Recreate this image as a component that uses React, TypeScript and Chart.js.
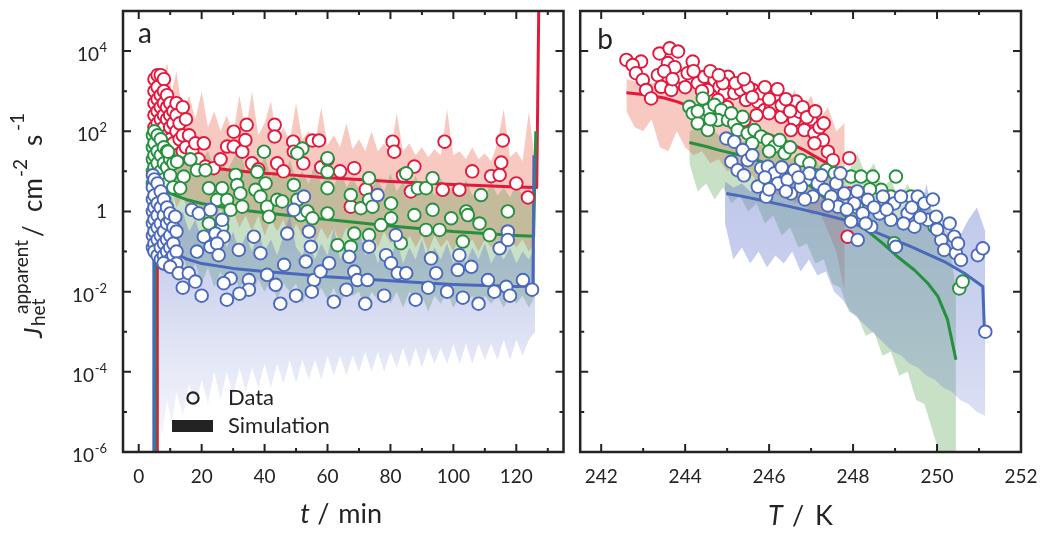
import React, { useEffect, useRef } from "react";
import { Chart, registerables } from "chart.js";

Chart.register(...registerables);

const FONT = "Lato, 'Open Sans', 'DejaVu Sans', sans-serif";
const INK = "#232323";
const RED = "#E2183C";
const GREEN = "#25913E";
const BLUE = "#4A69BD";
const RED_BAND = "rgba(236,112,92,0.38)";
const GREEN_BAND = "rgba(88,160,78,0.33)";
const BLUE_BAND = "rgba(98,118,205,0.34)";

// axis ticks
const Y_EXPONENTS = [-6, -5, -4, -3, -2, -1, 0, 1, 2, 3, 4, 5];
const Y_LABEL_EXPONENTS = [-6, -4, -2, 0, 2, 4];
const T_TICKS = [0, 10, 20, 30, 40, 50, 60, 70, 80, 90, 100, 110, 120, 130];
const T_TICK_LABELS = [0, 20, 40, 60, 80, 100, 120];
const K_TICKS = [242, 243, 244, 245, 246, 247, 248, 249, 250, 251, 252];
const K_TICK_LABELS = [242, 244, 246, 248, 250, 252];

// ---------- panel a : time (min), values are log10(J) ----------
const redDataA = [
  [5, 3.3], [5, 3.0], [5, 2.7], [5, 2.4], [5, 2.1], [6, 3.4], [6, 3.1], [6, 2.8], [6, 2.5], [6, 2.2], [6, 1.9],
  [7, 3.4], [7, 2.9], [7, 2.6], [7, 2.3], [7, 2.0], [8, 3.3], [8, 3.0], [8, 2.7], [8, 2.4], [8, 2.1],
  [9, 2.9], [9, 2.6], [9, 2.3], [9, 1.9], [10, 2.7], [10, 2.4], [10, 2.1], [10, 1.8], [11, 2.5], [11, 2.2], [11, 1.7],
  [12, 2.7], [12, 2.4], [12, 2.0], [13, 2.2], [13, 1.8], [14, 2.6], [14, 1.9], [14, 1.5], [15, 2.3], [15, 1.6],
  [16, 1.9], [17, 1.5], [18, 1.7], [19, 1.3], [20.7, 1.7], [21.2, 1.12], [23.8, 1.08], [26, 1.3], [28.1, 1.62],
  [30.2, 1.99], [30.2, 1.62], [32.9, 1.49], [33.9, 1.78], [34.3, 2.16], [36, 1.2], [38, 1.05], [43.2, 2.16],
  [43.2, 1.87], [44, 1.2], [46, 1.0], [49.1, 1.74], [49.3, 1.49], [52.3, 1.2], [55.2, 1.77], [57.3, 1.77],
  [58, 1.1], [60, 1.3], [64, 1.0], [68.5, 1.08], [67.4, 0.12], [72.2, 0.55], [80.7, 1.74], [81.2, 1.49],
  [84, 0.9], [87.6, 1.12], [86.5, 0.5], [97.2, 1.74], [96.6, 0.54], [101.9, 0.54], [106, 1.0], [112, 0.88],
  [114.7, 0.91], [115.2, 1.22], [115.7, 1.77], [120, 0.7], [123.7, 0.35],
];
const greenDataA = [
  [4.5, 1.9], [4.5, 1.6], [4.5, 1.3], [4.5, 1.0], [4.5, 0.7], [5, 2.0], [5, 1.7], [5, 1.4], [5, 1.1],
  [6, 1.9], [6, 1.5], [6, 1.2], [6, 0.9], [7, 1.8], [7, 1.4], [7, 1.0], [7, 0.7], [8, 1.6], [8, 1.2], [8, 0.8],
  [9, 1.5], [9, 1.1], [9, 0.7], [10, 1.3], [10, 0.9], [11, 1.2], [11, 0.6], [9.3, 1.49], [12.2, 1.24],
  [16.4, 1.3], [18.5, 1.03], [21.2, 1.03], [14.3, 0.87], [13.2, 0.58], [22.3, 0.58], [26.5, 0.58], [24.9, 0.29],
  [28.1, 0.29], [30.8, 0.91], [31.3, 0.66], [32.3, 0.45], [29.2, 0.04], [22.3, -0.3], [26.5, -0.38], [32.9, 0.12],
  [37.7, 0.99], [40.3, 0.7], [39.8, 1.49], [37.1, 0.54], [38.7, 0.37], [40.8, 0.12], [41.4, -0.13], [44, 0.29],
  [45.6, 0.25], [49.3, 0.66], [50.4, 0.29], [52, 1.57], [50.4, 1.45], [51.5, -0.09], [53.6, 0.0], [55.2, -0.17],
  [60, 1.33], [60, 0.99], [60, 0.58], [60, -0.05], [63.2, -0.84], [67.4, 0.41], [67.4, -0.88], [68.5, -0.55],
  [70.6, 0.08], [73.2, 0.83], [73.2, 0.29], [74.3, 0.12], [77, -0.34], [73.2, -0.59], [80.2, 0.2], [80.2, -0.17],
  [83.3, -0.79], [85, 0.95], [87.6, -0.09], [88.7, 0.58], [91.3, 0.58], [93.4, 0.83], [93.4, 0.04], [91.3, -0.46],
  [95.6, -0.46], [99.3, -0.17], [103, -0.75], [104.1, 0], [104.6, -0.09], [108.3, -0.3], [108.8, 0.41],
  [111.5, -0.59], [117.3, 0],
];
const blueDataA = [
  [4.5, 0.9], [4.5, 0.6], [4.5, 0.3], [4.5, 0.0], [4.5, -0.3], [4.5, -0.6], [4.5, -0.9], [5, 0.8], [5, 0.4],
  [5, 0.1], [5, -0.2], [5, -0.5], [5, -0.8], [5, -1.0], [6, 0.7], [6, 0.2], [6, -0.1], [6, -0.4], [6, -0.7],
  [6, -1.1], [7, 0.5], [7, 0.1], [7, -0.3], [7, -0.6], [7, -0.9], [7, -1.2], [8, 0.3], [8, -0.1], [8, -0.5],
  [8, -0.8], [8, -1.1], [8, -1.3], [9, 0.1], [9, -0.3], [9, -0.7], [9, -1.0], [9, -1.3], [10, -0.2], [10, -0.6],
  [10, -0.9], [10, -1.2], [11, -0.4], [11, -0.8], [11, -1.1], [12, -0.5], [12, -1.0], [12, -1.3],
  [10, -0.05], [11.6, -0.13], [7.9, -1.29], [10, -1.38], [12.7, -1.54], [15.9, -1.54], [18, -1.75], [18.5, -1.0],
  [16.9, 0.04], [19.1, -0.05], [22.8, 0.04], [20.7, -0.63], [22.8, -0.88], [24.4, -0.55], [26.5, -0.21],
  [27, -0.63], [24.9, -0.8], [25.4, -1.09], [29.2, -1.67], [27, -1.79], [31.8, -0.96], [35, -1.71], [36.6, -0.63],
  [38.7, -1.04], [40.8, -1.58], [43.5, -1.83], [46.2, -1.33], [47.2, -0.55], [49.3, 0.04], [52.5, 0.37],
  [53.1, -1.25], [54.1, -0.5], [54.7, -0.88], [55.7, -1.71], [57.8, -1.5], [60.5, -1.29], [66.9, -1.13],
  [68.5, -1.5], [69.5, -1.71], [72.7, -1.71], [73.2, -0.88], [75.9, 0.41], [78.6, -1.09], [80.2, -1.29],
  [81.7, -0.59], [82.3, -1.54], [85, -1.54], [92.9, -1.17], [94.5, -1.54], [101.4, -1.46], [101.9, -1.09],
  [105.7, -1.38], [111, -1.71], [114.7, -0.92], [117.3, -0.5], [117.3, -0.71], [122.1, -1.71], [116.8, -1.88],
  [20, -2.1], [28, -2.2], [35, -1.95], [45, -2.3], [55, -2.0], [62, -2.25], [78, -2.1], [88, -2.2], [98, -2.0],
  [108, -2.3], [118, -2.1], [125, -1.95], [14, -1.9], [32, -2.05], [50, -2.1], [66, -1.95], [72, -2.3],
  [92, -1.9], [103, -2.15], [113, -2.0],
];
const redLineA = [
  [5.9, -7], [5.9, 2.9], [6.5, 2.2], [7.5, 1.75], [9, 1.5], [11, 1.35], [15, 1.22], [20, 1.12], [30, 1.02],
  [40, 0.95], [50, 0.9], [60, 0.84], [70, 0.8], [80, 0.75], [90, 0.71], [100, 0.67], [110, 0.64], [120, 0.61],
  [126.5, 0.6], [127.2, 5.5],
];
const greenLineA = [
  [5.2, -7], [5.2, 1.1], [5.6, 0.85], [7, 0.65], [10, 0.45], [15, 0.3], [20, 0.2], [30, 0.06], [40, -0.03],
  [50, -0.12], [60, -0.2], [70, -0.28], [80, -0.36], [90, -0.43], [100, -0.5], [110, -0.55], [120, -0.6],
  [125.5, -0.62], [126.2, 2.0],
];
const blueLineA = [
  [4.8, -7], [4.8, 0.1], [5.3, -0.4], [6, -0.6], [7, -0.72], [8, -0.8], [10, -0.92], [12, -1.05], [15, -1.18],
  [20, -1.3], [30, -1.42], [40, -1.5], [50, -1.56], [60, -1.63], [70, -1.68], [80, -1.73], [90, -1.78],
  [100, -1.82], [110, -1.85], [120, -1.87], [125.3, -1.86], [125.6, 1.4],
];
const bandTA = [5, 6, 7.5, 9, 10.5, 12, 14, 16, 18, 20, 22, 24, 26, 28, 30, 32, 34, 36, 38, 40, 42, 44, 46, 48, 50,
  52, 54, 56, 58, 60, 62, 64, 66, 68, 70, 72, 74, 76, 78, 80, 82, 84, 86, 88, 90, 92, 94, 96, 98, 100, 102, 104,
  106, 108, 110, 112, 114, 116, 118, 120, 122, 124, 126];
const redBandHiA = [2.2, 3.6, 3.2, 3.7, 3.0, 3.5, 2.4, 2.9, 2.3, 3.0, 2.1, 2.5, 2.0, 2.4, 1.9, 2.9, 2.0, 3.0, 1.9,
  2.2, 2.75, 1.8, 2.1, 1.75, 2.7, 1.8, 2.0, 1.7, 2.6, 1.65, 1.9, 1.6, 2.2, 1.55, 1.8, 1.5, 2.0, 1.5, 1.7, 1.45,
  2.45, 1.5, 1.7, 1.4, 1.6, 1.35, 1.55, 1.4, 2.55, 1.4, 1.5, 1.3, 1.6, 1.3, 1.45, 1.25, 1.7, 2.55, 1.35, 1.5,
  1.25, 2.5, 1.2];
const redBandLoA = [1.2, 0.5, 0.9, 0.3, 0.6, 0.1, 0.4, -0.1, 0.3, -0.2, 0.2, -0.3, 0.1, -0.4, 0.0, -0.4, -0.1,
  -0.5, -0.1, -0.6, -0.2, -0.5, -0.2, -0.7, -0.3, -0.6, -0.3, -0.8, -0.4, -0.7, -0.4, -0.8, -0.4, -0.9, -0.5,
  -0.8, -0.5, -0.9, -0.5, -0.8, -0.6, -1.0, -0.6, -0.9, -0.6, -1.0, -0.6, -0.9, -0.7, -1.0, -0.6, -0.9, -0.7,
  -1.0, -0.7, -0.9, -0.7, -1.0, -0.7, -0.9, -0.7, -1.0, -0.8];
const greenBandHiA = [2.3, 2.1, 2.4, 1.9, 2.1, 1.6, 1.9, 1.4, 1.7, 1.3, 1.5, 1.1, 1.45, 1.0, 1.3, 1.65, 1.0, 1.2,
  0.9, 1.4, 0.85, 1.1, 0.8, 1.3, 0.8, 1.0, 0.7, 1.2, 0.7, 0.9, 0.6, 1.1, 0.6, 0.85, 0.55, 1.0, 0.6, 0.8, 0.5,
  0.95, 0.5, 0.75, 0.45, 0.9, 0.5, 0.7, 0.4, 0.85, 0.45, 0.65, 0.4, 0.8, 0.4, 0.6, 0.35, 0.75, 0.4, 0.6, 0.35,
  0.7, 0.4, 0.55, 0.3];
const greenBandLoA = [0.2, -0.8, -0.4, -1.2, -0.8, -1.5, -1.1, -1.6, -1.3, -1.8, -1.4, -1.9, -1.5, -2.0, -1.6,
  -1.9, -1.7, -2.1, -1.7, -2.0, -1.7, -2.2, -1.8, -2.0, -1.8, -2.3, -1.9, -2.1, -1.9, -2.2, -1.9, -2.3, -2.0,
  -2.1, -2.0, -2.4, -2.0, -2.2, -2.0, -2.3, -2.0, -2.4, -2.0, -2.2, -2.1, -2.5, -2.1, -2.3, -2.0, -2.4, -2.1,
  -2.3, -2.1, -2.5, -2.1, -2.3, -2.1, -2.4, -2.1, -2.3, -2.1, -2.4, -2.1];
const blueBandHiA = [1.1, 0.5, 0.8, 0.1, 0.4, -0.3, 0.0, -0.5, -0.2, -0.7, -0.3, -0.8, -0.4, -0.9, -0.5, -1.0,
  -0.6, -1.0, -0.5, -1.0, -0.7, -1.1, -0.6, -0.1, -0.9, -1.1, -0.7, -1.2, -0.8, -1.1, -0.4, -1.2, -0.8, -1.0,
  -0.4, -1.1, -0.8, -1.3, -0.9, -1.2, -0.7, -1.3, -0.9, -1.2, -0.7, -1.3, -0.9, -1.2, -0.8, -1.3, -1.0, -1.3,
  -0.9, -1.2, -0.8, -1.3, -1.0, -1.2, -0.9, -1.3, -1.0, -1.2, -0.9];
const blueBandLoA = [-6.0, -5.1, -5.6, -4.7, -5.3, -4.5, -5.1, -4.3, -4.9, -4.2, -4.8, -4.0, -4.7, -4.0, -4.6,
  -3.9, -4.5, -3.9, -4.4, -3.8, -4.4, -3.8, -4.3, -3.7, -4.3, -3.7, -4.2, -3.7, -4.2, -3.6, -4.1, -3.6, -4.1,
  -3.6, -4.0, -3.5, -4.0, -3.5, -4.0, -3.5, -3.9, -3.4, -3.9, -3.4, -3.9, -3.4, -3.8, -3.4, -3.8, -3.3, -3.8,
  -3.3, -3.8, -3.3, -3.7, -3.3, -3.7, -3.2, -3.7, -3.2, -3.6, -3.2, -3.0];

// ---------- panel b : temperature (K), values are log10(J) ----------
const redDataB = [
  [242.6, 3.78], [242.95, 3.74], [242.75, 3.65], [242.83, 3.45], [242.99, 3.28], [243.07, 3.03], [243.19, 2.82],
  [243.39, 3.94], [243.63, 4.07], [243.83, 3.99], [243.35, 3.4], [243.59, 3.7], [243.43, 3.11], [243.67, 3.03],
  [243.9, 3.36], [244.18, 3.74], [244.06, 3.45], [244.3, 3.2], [244.46, 3.36], [244.54, 3.03], [244.7, 3.28],
  [244.82, 3.11], [245.02, 3.36], [244.94, 2.95], [245.17, 2.95], [245.33, 3.03], [245.45, 2.78], [245.61, 3.03],
  [245.73, 2.74], [245.81, 2.95], [245.89, 2.53], [246.13, 2.9], [246.05, 2.61], [246.29, 2.36], [246.44, 2.57],
  [246.64, 2.74], [246.6, 2.28], [246.72, 2.49], [246.52, 2.03], [246.84, 2.03], [247.08, 1.95], [247.28, 1.78],
  [247.08, 1.7], [247.4, 1.49], [247.52, 1.28], [247.91, 1.33], [247.87, -0.63], [245.41, 2.28], [244.78, 2.78],
  [243.75, 3.6], [244.0, 3.1], [244.9, 3.2], [245.5, 3.1], [246.0, 2.8], [246.3, 2.65], [247.0, 2.3], [247.2, 2.1],
  [247.9, 0.45], [245.0, 2.6], [245.7, 2.4], [243.5, 3.5], [243.7, 3.3], [244.2, 3.5], [244.4, 3.0], [244.6, 3.5],
  [244.8, 3.4], [245.2, 3.2], [245.4, 3.3], [245.6, 2.85], [245.9, 3.1], [246.0, 2.45], [246.2, 3.05],
  [246.4, 2.8], [246.5, 2.5], [246.8, 2.6], [246.9, 2.35], [247.1, 2.5], [247.3, 2.2],
];
const greenDataB = [
  [244.1, 2.61], [244.42, 2.82], [244.18, 2.45], [244.3, 2.2], [244.54, 2.53], [244.54, 2.03], [244.7, 2.66],
  [244.86, 2.53], [244.78, 2.28], [245.02, 2.28], [245.17, 2.2], [245.37, 2.36], [245.25, 2.03], [245.49, 1.95],
  [245.65, 2.03], [245.81, 1.87], [245.97, 1.78], [246.13, 1.62], [246.25, 1.78], [246.37, 1.45], [246.76, 1.28],
  [246.96, 1.2], [247.36, 1.03], [247.56, 0.95], [247.95, 0.87], [248.19, 0.87], [248.47, 0.87], [249.02, 0.87],
  [248.67, 0.54], [248.9, 0.37], [249.38, 0.37], [249.86, -0.21], [249.94, -0.38], [250.53, -1.92],
  [250.61, -1.75], [248.98, -0.79], [246.9, 0.8], [247.5, 0.3], [248.1, 0.1], [248.4, 0.55], [244.3, 2.5],
  [244.6, 2.3], [245.1, 2.45], [245.6, 1.7], [246.0, 1.5], [246.5, 1.6], [247.1, 0.9], [249.6, 0.2],
];
const blueDataB = [
  [244.98, 1.82], [245.17, 1.74], [245.1, 1.24], [245.37, 1.53], [245.25, 1.03], [245.49, 1.28], [245.73, 0.62],
  [245.81, 1.08], [245.97, 1.12], [246.13, 0.95], [246.21, 0.7], [245.93, 0.37], [246.44, 0.79], [246.6, 1.03],
  [246.52, 0.45], [246.76, 0.62], [246.96, 0.95], [247.04, 0.37], [247.16, 0.7], [247.32, 0.54], [247.48, 0.37],
  [247.6, 0.7], [247.64, 0.12], [247.79, 0.45], [247.95, -0.25], [248.03, 0.2], [248.11, -0.71], [248.23, -0.05],
  [248.35, 0.29], [248.43, -0.38], [248.63, -0.05], [248.71, 0.37], [248.9, -0.21], [248.98, 0.2], [249.02, -0.88],
  [249.14, 0.37], [249.3, -0.05], [249.46, -0.38], [249.54, 0.37], [249.7, 0.2], [249.78, -0.21], [249.98, -0.13],
  [250.1, -0.71], [250.17, -0.96], [250.41, -0.63], [250.45, -1.04], [250.57, -1.21], [250.97, -1.09],
  [251.09, -0.92], [251.15, -3.0], [245.6, 1.4], [245.9, 0.85], [246.3, 1.1], [246.4, 0.5], [246.7, 0.85],
  [246.85, 0.3], [247.25, 0.9], [247.4, 0.15], [247.7, 0.95], [247.85, 0.05], [248.1, 0.5], [248.3, -0.3],
  [248.5, 0.1], [248.8, 0.05], [249.2, -0.3], [249.4, 0.1], [249.6, -0.15], [249.9, 0.3], [250.0, -0.45],
  [250.3, -0.3], [250.5, -0.8], [245.4, 0.9], [246.0, 0.55],
];
const redLineB = [
  [242.6, 2.96], [243.0, 2.92], [243.5, 2.83], [243.8, 2.74], [244.3, 2.55], [244.8, 2.38], [245.3, 2.2],
  [245.8, 2.0], [246.3, 1.8], [246.8, 1.55], [247.3, 1.25], [247.8, 0.9],
];
const greenLineB = [
  [244.1, 1.72], [244.5, 1.62], [244.8, 1.53], [245.3, 1.41], [245.8, 1.25], [246.3, 1.05], [246.8, 0.8],
  [247.3, 0.35], [247.8, -0.1], [248.3, -0.45], [248.7, -0.79], [249.06, -1.13], [249.46, -1.46],
  [249.78, -1.79], [250.02, -2.12], [250.25, -2.7], [250.45, -3.7],
];
const blueLineB = [
  [244.98, 0.45], [245.4, 0.37], [245.81, 0.28], [246.5, 0.12], [247.2, -0.05], [247.79, -0.21], [248.59, -0.54],
  [249.38, -0.88], [250.17, -1.25], [250.65, -1.54], [251.09, -1.87], [251.13, -3.0],
];
const redBandTB = [242.6, 242.8, 243.0, 243.2, 243.4, 243.6, 243.8, 244.0, 244.2, 244.4, 244.6, 244.8, 245.0,
  245.2, 245.4, 245.6, 245.8, 246.0, 246.2, 246.4, 246.6, 246.8, 247.0, 247.2, 247.4, 247.6, 247.8];
const redBandHiB = [3.3, 3.25, 3.3, 3.2, 3.25, 3.1, 3.15, 3.0, 3.1, 2.95, 3.0, 2.85, 2.9, 2.75, 2.8, 2.6, 2.7, 2.5,
  2.6, 2.4, 3.05, 2.5, 2.9, 2.3, 2.6, 2.0, 2.2];
const redBandLoB = [2.5, 2.1, 2.0, 2.3, 1.6, 1.5, 2.0, 1.6, 1.4, 1.5, 1.2, 1.3, 1.0, 1.1, 0.8, 0.9, 0.6, 0.7, 0.4,
  0.5, 0.2, 0.3, -0.1, 0.0, -0.5, -1.0, -2.0];
const greenBandTB = [244.1, 244.3, 244.5, 244.7, 244.9, 245.1, 245.3, 245.5, 245.7, 245.9, 246.1, 246.3, 246.5,
  246.7, 246.9, 247.1, 247.3, 247.5, 247.7, 247.9, 248.1, 248.3, 248.5, 248.7, 248.9, 249.1, 249.3, 249.5, 249.7,
  249.9, 250.1, 250.3, 250.45];
const greenBandHiB = [2.0, 2.1, 1.9, 2.0, 1.8, 1.9, 1.7, 1.8, 1.6, 1.7, 1.5, 1.6, 1.3, 1.4, 1.2, 1.3, 1.0, 1.1,
  0.9, 1.0, 1.45, 0.9, 1.2, 0.6, 0.8, 0.3, 0.7, 0.2, 0.5, 0.0, -0.3, -0.8, -2.0];
const greenBandLoB = [1.2, 0.5, 0.7, 0.3, 0.6, 0.2, 0.4, 0.0, 0.2, -0.3, -0.1, -0.6, -0.4, -0.9, -0.8, -1.3,
  -1.2, -1.8, -1.9, -2.5, -2.6, -3.1, -3.0, -3.6, -3.5, -4.1, -4.0, -4.7, -4.8, -5.5, -6.2, -7.0, -7.0];
const blueBandTB = [244.95, 245.15, 245.35, 245.55, 245.75, 245.95, 246.15, 246.35, 246.55, 246.75, 246.95,
  247.15, 247.35, 247.55, 247.75, 247.95, 248.15, 248.35, 248.55, 248.75, 248.95, 249.15, 249.35, 249.55, 249.75,
  249.95, 250.15, 250.35, 250.55, 250.75, 250.95, 251.15];
const blueBandHiB = [0.75, 0.6, 0.7, 0.5, 0.65, 0.45, 0.6, 0.4, 0.5, 0.3, 0.45, 0.25, 0.4, 0.15, 0.3, 0.05, 0.2,
  0.0, 0.1, -0.15, 0.0, -0.3, 0.3, -0.4, 0.7, -0.5, -0.3, -0.7, -0.6, -0.2, 0.1, -0.5];
const blueBandLoB = [-0.3, -1.2, -0.9, -1.3, -1.0, -1.4, -1.1, -1.3, -1.0, -1.5, -1.2, -1.6, -1.5, -2.0, -2.2,
  -2.5, -2.7, -2.9, -3.1, -3.3, -3.5, -3.6, -3.8, -3.9, -4.1, -4.2, -4.4, -4.5, -4.7, -4.8, -5.0, -5.1];

// ---------- helpers ----------
const pts = (pairs: number[][]) => pairs.map(([x, e]) => ({ x, y: Math.pow(10, e) }));
const bandPts = (xs: number[], es: number[]) => xs.map((x, i) => ({ x, y: Math.pow(10, es[i]) }));

function bandSets(xs: number[], hi: number[], lo: number[], bg: any, order: number) {
  return [
    {
      type: "line", data: bandPts(xs, hi), borderWidth: 0, borderColor: "rgba(0,0,0,0)",
      pointRadius: 0, fill: "+1", backgroundColor: bg, order,
    },
    {
      type: "line", data: bandPts(xs, lo), borderWidth: 0, borderColor: "rgba(0,0,0,0)",
      pointRadius: 0, fill: false, backgroundColor: "rgba(0,0,0,0)", order: order - 1,
    },
  ];
}
function lineSet(pairs: number[][], color: string, order: number) {
  return {
    type: "line", data: pts(pairs), borderColor: color, borderWidth: 3, pointRadius: 0, fill: false,
    borderJoinStyle: "round", order,
  };
}
function pointSet(pairs: number[][], color: string, order: number) {
  return {
    type: "line", data: pts(pairs), showLine: false, pointRadius: 6.3, pointBorderWidth: 1.9,
    pointBackgroundColor: "#ffffff", pointBorderColor: color, borderColor: color, backgroundColor: "#ffffff",
    fill: false, order,
  };
}

function blueFade(topExp: number, a0: number, a1: number, a2: number) {
  return (c: any) => {
    const chart = c.chart;
    const area = chart.chartArea;
    if (!area || !chart.scales || !chart.scales.y) return BLUE_BAND;
    const y0 = chart.scales.y.getPixelForValue(Math.pow(10, topExp));
    const g = chart.ctx.createLinearGradient(0, y0, 0, area.bottom);
    g.addColorStop(0, `rgba(98,118,205,${a0})`);
    g.addColorStop(0.45, `rgba(98,118,205,${a1})`);
    g.addColorStop(1, `rgba(98,118,205,${a2})`);
    return g;
  };
}

function setFont(ctx: CanvasRenderingContext2D, size: number, italic = false) {
  ctx.font = `${italic ? "italic " : ""}${size}px ${FONT}`;
}

function decorPlugin(panel: "a" | "b") {
  return {
    id: "decor" + panel,
    afterDraw(chart: any) {
      const ctx: CanvasRenderingContext2D = chart.ctx;
      const { left, right, top, bottom } = chart.chartArea;
      const xs = chart.scales.x;
      const ys = chart.scales.y;
      ctx.save();
      ctx.strokeStyle = INK;
      ctx.fillStyle = INK;
      // tick marks on all four sides, pointing inward
      ctx.lineWidth = 2;
      ctx.beginPath();
      for (const t of xs.ticks) {
        const px = xs.getPixelForValue(t.value);
        const major = panel === "a" ? T_TICK_LABELS.includes(t.value) : K_TICK_LABELS.includes(t.value);
        const len = major ? 8 : 4;
        ctx.moveTo(px, bottom); ctx.lineTo(px, bottom - len);
        ctx.moveTo(px, top); ctx.lineTo(px, top + len);
      }
      for (const t of ys.ticks) {
        const e = Math.round(Math.log10(t.value));
        const py = ys.getPixelForValue(t.value);
        const len = Y_LABEL_EXPONENTS.includes(e) ? 8 : 4;
        ctx.moveTo(left, py); ctx.lineTo(left + len, py);
        ctx.moveTo(right, py); ctx.lineTo(right - len, py);
      }
      ctx.stroke();
      // frame
      ctx.lineWidth = 2.5;
      ctx.strokeRect(left, top, right - left, bottom - top);

      ctx.textBaseline = "alphabetic";
      const cx = (left + right) / 2;
      if (panel === "a") {
        // y tick labels with superscript exponents
        const rx = left - 16;
        for (const e of Y_LABEL_EXPONENTS) {
          const py = ys.getPixelForValue(Math.pow(10, e));
          ctx.textAlign = "right";
          if (e === 0) {
            setFont(ctx, 19);
            ctx.fillText("1", rx, py + 7);
            continue;
          }
          const sup = String(e);
          setFont(ctx, 13);
          const w = ctx.measureText(sup).width;
          ctx.fillText(sup, rx, py + 1);
          setFont(ctx, 19);
          ctx.fillText("10", rx - w - 0.5, py + 10);
        }
        // y axis title (rotated)
        ctx.save();
        ctx.translate(42, 338);
        ctx.rotate(-Math.PI / 2);
        ctx.textAlign = "left";
        setFont(ctx, 26, true); ctx.fillText("J", 0, 0);
        setFont(ctx, 19); ctx.fillText("het", 12, 3);
        setFont(ctx, 19); ctx.fillText("apparent", 24, -14);
        setFont(ctx, 26); ctx.fillText("/", 101, 0);
        setFont(ctx, 26); ctx.fillText("cm", 126, 0);
        setFont(ctx, 19); ctx.fillText("-2", 161, -15);
        setFont(ctx, 26); ctx.fillText("s", 192, 0);
        setFont(ctx, 19); ctx.fillText("-1", 207, -18);
        ctx.restore();
        // x axis title
        ctx.textAlign = "left";
        setFont(ctx, 27, true); ctx.fillText("t", cx - 43, 523);
        setFont(ctx, 27); ctx.fillText("/", cx - 26, 523);
        setFont(ctx, 27); ctx.fillText("min", cx - 5, 523);
        // panel letter
        setFont(ctx, 28); ctx.fillText("a", left + 15, 43);
        // legend
        ctx.lineWidth = 2.2;
        ctx.beginPath();
        ctx.arc(193, 398, 5.6, 0, Math.PI * 2);
        ctx.stroke();
        ctx.fillRect(172, 420, 41, 12);
        setFont(ctx, 22);
        ctx.fillText("Data", 228, 405);
        ctx.fillText("Simulation", 228, 433);
      } else {
        ctx.textAlign = "left";
        setFont(ctx, 27, true); ctx.fillText("T", cx - 32.5, 525);
        setFont(ctx, 27); ctx.fillText("/", cx - 8.5, 525);
        setFont(ctx, 27); ctx.fillText("K", cx + 14.5, 525);
        setFont(ctx, 28); ctx.fillText("b", left + 17, 49);
      }
      ctx.restore();
    },
  };
}

function makeConfig(panel: "a" | "b") {
  const isA = panel === "a";
  const xTicks = isA ? T_TICKS : K_TICKS;
  const xLabels = isA ? T_TICK_LABELS : K_TICK_LABELS;
  const datasets: any[] = isA
    ? [
        ...bandSets(bandTA, redBandHiA, redBandLoA, RED_BAND, 30),
        ...bandSets(bandTA, greenBandHiA, greenBandLoA, GREEN_BAND, 28),
        ...bandSets(bandTA, blueBandHiA, blueBandLoA, blueFade(-0.5, 0.4, 0.22, 0.03), 26),
        lineSet(redLineA, RED, 20),
        lineSet(greenLineA, GREEN, 19),
        lineSet(blueLineA, BLUE, 18),
        pointSet(redDataA, RED, 10),
        pointSet(greenDataA, GREEN, 9),
        pointSet(blueDataA, BLUE, 8),
      ]
    : [
        ...bandSets(redBandTB, redBandHiB, redBandLoB, RED_BAND, 30),
        ...bandSets(greenBandTB, greenBandHiB, greenBandLoB, GREEN_BAND, 28),
        ...bandSets(blueBandTB, blueBandHiB, blueBandLoB, blueFade(0.5, 0.4, 0.33, 0.2), 26),
        lineSet(redLineB, RED, 20),
        lineSet(greenLineB, GREEN, 19),
        lineSet(blueLineB, BLUE, 18),
        pointSet(redDataB, RED, 10),
        pointSet(greenDataB, GREEN, 9),
        pointSet(blueDataB, BLUE, 8),
      ];
  return {
    type: "line",
    data: { datasets },
    plugins: [decorPlugin(panel)],
    options: {
      animation: false,
      responsive: false,
      maintainAspectRatio: false,
      devicePixelRatio: 1,
      events: [],
      layout: { padding: { left: 0, right: isA ? 8.5 : 29, top: 11, bottom: 0 } },
      plugins: { legend: { display: false }, tooltip: { enabled: false }, title: { display: false } },
      scales: {
        x: {
          type: "linear",
          min: isA ? -5 : 241.5,
          max: isA ? 135 : 252,
          afterBuildTicks: (s: any) => { s.ticks = xTicks.map((v) => ({ value: v })); },
          afterFit: (s: any) => { s.height = 93; },
          ticks: {
            autoSkip: false, maxRotation: 0, minRotation: 0, padding: 0, color: INK,
            font: { family: FONT, size: 19 },
            callback: (v: any) => (xLabels.includes(Number(v)) ? String(v) : ""),
          },
          grid: { display: false, drawTicks: true, tickLength: 13 },
          border: { display: false },
        },
        y: {
          type: "logarithmic",
          min: 1e-6,
          max: 1e5,
          afterBuildTicks: (s: any) => { s.ticks = Y_EXPONENTS.map((e) => ({ value: Math.pow(10, e) })); },
          afterFit: (s: any) => { s.width = isA ? 123 : 8; },
          ticks: { display: false },
          grid: { display: false, drawTicks: false },
          border: { display: false },
        },
      },
    },
  };
}

export default function App() {
  const refA = useRef<HTMLCanvasElement>(null);
  const refB = useRef<HTMLCanvasElement>(null);
  useEffect(() => {
    const a = new Chart(refA.current as any, makeConfig("a") as any);
    const b = new Chart(refB.current as any, makeConfig("b") as any);
    let alive = true;
    if ((document as any).fonts && (document as any).fonts.ready) {
      (document as any).fonts.ready.then(() => {
        if (alive) { a.update(); b.update(); }
      });
    }
    return () => { alive = false; a.destroy(); b.destroy(); };
  }, []);
  return (
    <div style={{ position: "absolute", left: 0, top: 0, width: 1050, height: 545, background: "#ffffff" }}>
      <canvas ref={refA} width={572} height={545}
        style={{ position: "absolute", left: 0, top: 0, width: 572, height: 545 }} />
      <canvas ref={refB} width={478} height={545}
        style={{ position: "absolute", left: 572, top: 0, width: 478, height: 545 }} />
    </div>
  );
}
